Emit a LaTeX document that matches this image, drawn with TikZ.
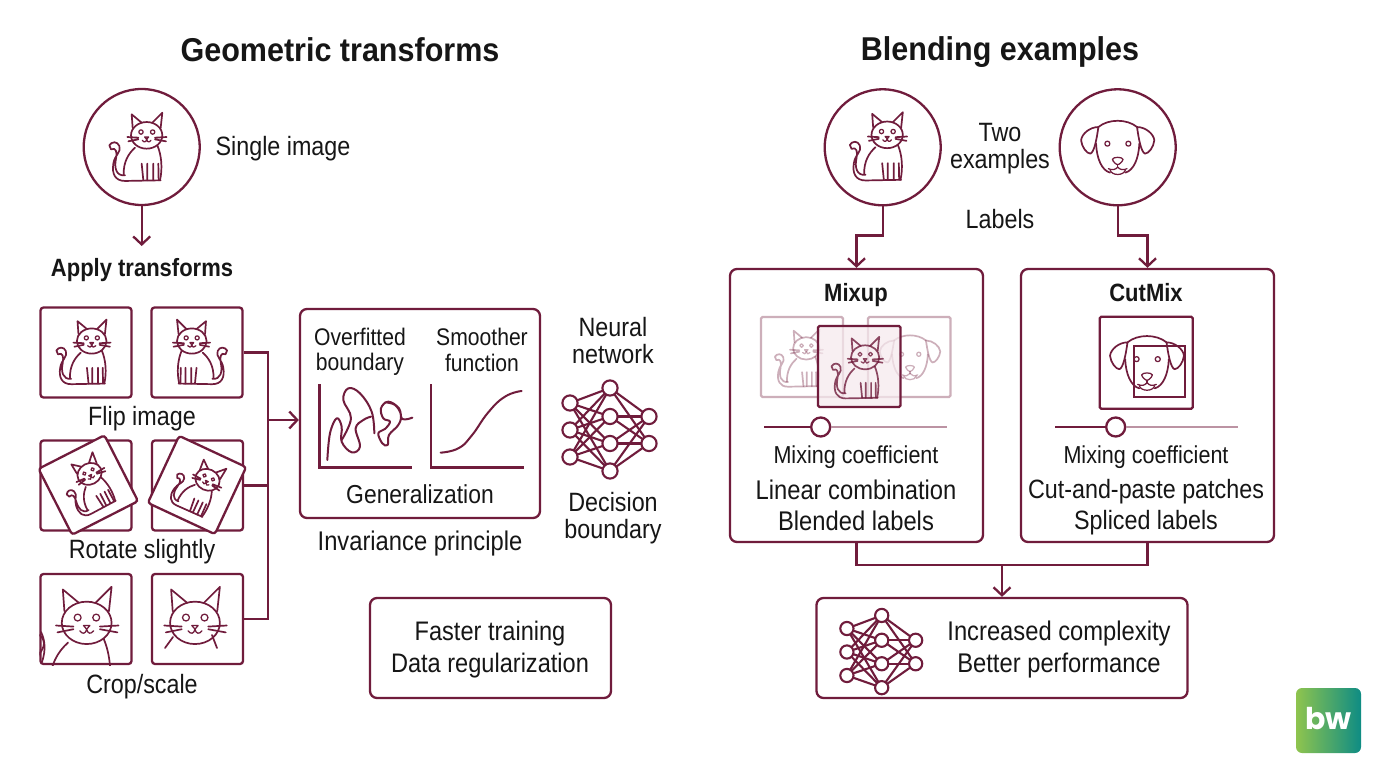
\documentclass[tikz,border=0pt]{standalone}
\usepackage{fontspec}
\setmainfont{Liberation Sans}[FakeStretch=0.88]
\newfontfamily\titlefont{Liberation Sans}[FakeStretch=0.925]
\newfontfamily\logofont{Poppins}
\usetikzlibrary{arrows.meta}
\definecolor{mar}{HTML}{701C3C}
\definecolor{ink}{HTML}{161616}
\definecolor{palemar}{HTML}{BC93A3}
\definecolor{veil}{HTML}{F6EAEE}
\definecolor{logoL}{HTML}{8FC44E}
\definecolor{logoR}{HTML}{0E8C84}
\newcommand{\myfacepath}{%
  \draw[icon] (350,165) ellipse [x radius=47,y radius=40];
  \draw[icon] (308,143) -- (305,102) -- (335,127);
  \draw[icon] (367,127) -- (397,97) -- (392,143);
  \draw[fine] (333,155) circle (6.5) (368,155) circle (6.5);
  \draw[fine] (344,170) -- (356,170) -- (350,177) -- cycle;
  \draw[fine] (337,180) .. controls (342,187) and (348,186) .. (350,177) .. controls (352,186) and (358,187) .. (363,180);
  \draw[icon] (292,170) -- (325,172) (295,183) -- (325,177);
  \draw[icon] (375,172) -- (410,170) (375,177) -- (408,183);
}
\tikzset{
  wire/.style={draw=mar,line width=2.3pt},
  arr/.style={wire,-{Straight Barb[length=8pt,width=17pt,line width=2.3pt]}},
  icon/.style={draw=mar,line width=1.7pt,line cap=round,line join=round},
  fine/.style={draw=mar,line width=1.25pt,line cap=round,line join=round},
  panel/.style={draw=mar,line width=2.3pt,rounded corners=7pt,inner sep=0pt,fill=none},
  tile/.style={draw=mar,line width=2.3pt,rounded corners=3pt,inner sep=0pt,minimum width=91pt,minimum height=90pt},
  disc/.style={circle,draw=mar,line width=2.3pt,inner sep=0pt,minimum size=116pt},
  txt/.style={text=ink,align=center,inner sep=0pt,font=\fontsize{26.5}{27}\selectfont},
  wide/.style={text=ink,align=center,inner sep=0pt,font=\fontsize{27}{30.5}\selectfont},
  head/.style={text=ink,align=center,inner sep=0pt,font=\titlefont\bfseries\fontsize{33}{34}\selectfont},
  sub/.style={text=ink,align=center,inner sep=0pt,font=\bfseries\fontsize{25}{27}\selectfont},
  catface/.pic={
    \begin{scope}[shift={(-324,-203)}]
      \myfacepath
    \end{scope}
  },
  cat/.pic={
    \begin{scope}[shift={(-324,-203)}]
      \myfacepath
      \draw[icon] (392,300) -- (285,302) .. controls (255,302) and (245,280) .. (250,250) .. controls (253,225) and (275,215) .. (268,197) .. controls (262,182) and (245,183) .. (238,195) -- (243,207) .. controls (258,200) and (262,215) .. (258,235) .. controls (252,262) and (258,288) .. (285,285);
      \draw[icon] (315,202) .. controls (295,220) and (280,245) .. (281,283);
      \draw[icon] (382,195) .. controls (395,225) and (398,265) .. (390,300);
      \draw[icon] (335,250) -- (340,300) (352,250) -- (352,300) (370,250) -- (370,300) (385,250) -- (386,300);
    \end{scope}
  },
  dog/.pic={
    \begin{scope}[shift={(-908,-185)}]
      \draw[icon] (850,125) .. controls (880,100) and (936,100) .. (966,125);
      \draw[icon] (850,125) .. controls (825,125) and (800,145) .. (798,165) .. controls (800,185) and (815,205) .. (826,205) .. controls (838,200) and (845,160) .. (850,125);
      \draw[icon] (966,125) .. controls (991,125) and (1016,145) .. (1018,165) .. controls (1016,185) and (1001,205) .. (990,205) .. controls (978,200) and (971,160) .. (966,125);
      \draw[icon] (843,175) .. controls (845,220) and (860,255) .. (885,262);
      \draw[icon] (973,175) .. controls (971,220) and (956,255) .. (931,262);
      \draw[fine] (877,175) circle (7.5) (940,175) circle (7.5);
      \draw[fine] (892,222) .. controls (895,214) and (921,214) .. (924,222) .. controls (922,230) and (912,238) .. (908,238) .. controls (904,238) and (894,230) .. (892,222) -- cycle;
      \draw[fine] (908,238) -- (908,245);
      \draw[fine] (880,250) .. controls (892,256) and (902,253) .. (908,245) .. controls (914,253) and (924,256) .. (936,250);
      \draw[fine] (885,254) .. controls (890,272) and (926,272) .. (931,254);
    \end{scope}
  },
  nnet/.pic={
    \foreach \ya in {-27,0,27} \foreach \yb in {-42,-13.5,13.5,41}
      \draw[draw=mar,line width=2.1pt] (-40,\ya) -- (0,\yb);
    \foreach \ya in {-42,-13.5,13.5,41} \foreach \yb in {-13.5,13.5}
      \draw[draw=mar,line width=2.1pt] (0,\ya) -- (39,\yb);
    \foreach \ya in {-27,0,27} \filldraw[fill=white,draw=mar,line width=2.1pt] (-40,\ya) circle (7.6);
    \foreach \ya in {-42,-13.5,13.5,41} \filldraw[fill=white,draw=mar,line width=2.1pt] (0,\ya) circle (7.6);
    \foreach \ya in {-13.5,13.5} \filldraw[fill=white,draw=mar,line width=2.1pt] (39,\ya) circle (7.6);
  }
}
\begin{document}
\begin{tikzpicture}[x=1pt,y=-1pt]
\useasboundingbox (0,0) rectangle (1376,768);
\fill[white] (0,0) rectangle (1376,768);

% Titles
\node[head] (t1) at (340,50) {Geometric transforms};
\node[head] (t2) at (1000,52) {Blending examples};

% Left source
\node[disc] (c1) at (141.7,147) {};
\pic[scale=.333] at (138,148) {cat};
\node[txt] (single) at (283,149) {Single image};
\coordinate (applytop) at (141.7,246);
\draw[arr] (c1.south) -- (applytop);
\node[sub] (apply) at (142,270) {Apply transforms};

% Tiles
\node[tile] (b1) at (86,352.5) {};
\node[tile] (b2) at (197,352.5) {};
\node[tile] (b3) at (86,485.5) {};
\node[tile] (b4) at (197.5,485.5) {};
\node[tile] (b5) at (86,619) {};
\node[tile] (b6) at (197.5,619) {};

\pic[scale=.315] at (83.5,353) {cat};
\pic[scale=.315,xscale=-1] at (200,353) {cat};

% connectors from tiles
\coordinate (bus) at (268,420);
\draw[wire] (b2.east) -| (bus);
\draw[wire] (b6.east) -| (bus);
\draw[wire] (b4.east) -- (b4.east -| bus);

% Rotated tiles
\node[tile,fill=white,rotate=27,minimum width=74pt,minimum height=74pt] (r1) at (88.3,485) {};
\node[tile,fill=white,rotate=-25,minimum width=74pt,minimum height=74pt] (r2) at (197,485) {};
\pic[scale=.265,rotate=27] at (88,486) {cat};
\pic[scale=.265,rotate=-25] at (197,486) {cat};

\node[txt] (flip) at (142,419) {Flip image};
\node[txt] (rot) at (142,552) {Rotate slightly};
\node[txt] (crop) at (142,687) {Crop/scale};

% Crop tiles
\begin{scope}
  \clip (b5.south west) rectangle (b5.north east);
  \pic[scale=.53] at (72.9,643) {cat};
  \draw[icon] (41,632) .. controls (45,640) and (46,650) .. (42,662);
\end{scope}
\pic[scale=.53] at (181.2,643) {catface};
\draw[icon] (173,637) -- (165,648) (212,635) -- (217,648);

% Generalization panel
\node[panel,minimum width=240pt,minimum height=209pt] (gen) at (420,413.5) {};
\draw[arr] (bus) -- (bus -| gen.west);
\node[txt,font=\fontsize{24}{25.5}\selectfont] (over) at (360,352) {Overfitted\\boundary};
\node[txt,font=\fontsize{24}{25.5}\selectfont] (smooth) at (482,350) {Smoother\\function};
\draw[wire] (319.5,384) -- (319.5,467.5) -- (412,467.5);
\draw[wire] (431,384) -- (431,467.5) -- (524,467.5);
\begin{scope}[shift={(295,305)},scale=.3333]
  \draw[icon,line width=2pt] plot[smooth,tension=.65] coordinates {(97,465) (105,385) (125,340) (140,365) (140,410) (170,442) (195,425) (182,370) (205,345) (228,335)};
  \draw[icon,line width=2pt] plot[smooth,tension=.65] coordinates {(238,385) (230,320) (195,265) (160,250) (145,285) (168,340) (140,405)};
  \draw[icon,line width=2pt] plot[smooth,tension=.65] coordinates {(352,338) (322,342) (312,310) (280,290) (258,310) (265,340) (285,350) (270,372) (250,385) (262,415) (278,420) (282,390) (310,360) (318,330) (300,300) (270,292)};
  \draw[icon,line width=2pt] plot[smooth,tension=.8] coordinates {(437,443) (490,430) (530,392) (580,322) (630,275) (680,258)};
\end{scope}
\node[txt,font=\fontsize{26}{27}\selectfont] (genl) at (420,494) {Generalization};
\node[txt,font=\fontsize{27}{27}\selectfont] (inv) at (420,544) {Invariance principle};
\node[txt] (nn) at (613,341) {Neural\\network};
\pic at (610,430) {nnet};
\node[txt] (dec) at (613,518) {Decision\\boundary};

% Faster box
\node[panel,minimum width=241pt,minimum height=100pt] (fast) at (490.5,648) {};
\node[wide,font=\fontsize{26.8}{32}\selectfont] (fastt) at (490,650) {Faster training\\Data regularization};

% Right sources
\node[disc] (c2) at (882.7,147.3) {};
\node[disc] (c3) at (1117.7,147.3) {};
\pic[scale=.333] at (878.5,147.5) {cat};
\pic[scale=.333] at (1117.7,147) {dog};
\node[txt] (two) at (1000,148.5) {Two\\examples};
\node[txt] (lab) at (1000,219) {Labels};

% Mixup
\node[panel,minimum width=253pt,minimum height=273pt] (mix) at (856.5,405.5) {};
\node[sub] (mixt) at (856,295) {Mixup};
\draw[arr] (c2.south) -- ++(0,29) -| (mix.north);
\begin{scope}[opacity=.35]
  \draw[wire,rounded corners=1.5pt] (761,317) rectangle (843,397);
  \draw[wire,rounded corners=1.5pt] (868,317) rectangle (950.5,397);
  \pic[scale=.28] at (799,359) {cat};
  \pic[scale=.275] at (910,357) {dog};
\end{scope}
\fill[veil,opacity=.72] (818,326) rectangle (900.5,407);
\draw[wire,rounded corners=1.5pt] (818,326) rectangle (900.5,407);
\begin{scope}[opacity=.8]
  \pic[scale=.3] at (857.3,368.7) {cat};
\end{scope}
\coordinate (s1a) at (764,427);
\coordinate (s1b) at (946.7,427);
\node[circle,draw=mar,line width=2.3pt,fill=white,inner sep=0pt,minimum size=19pt] (k1) at (820.7,427) {};
\draw[draw=palemar,line width=2.3pt] (k1.east) -- (s1b);
\draw[wire] (s1a) -- (k1.west);
\node[txt,font=\fontsize{24.5}{25}\selectfont] (mc1) at (856,457) {Mixing coefficient};
\node[wide,font=\fontsize{27}{30.5}\selectfont] (mixb) at (856,505.5) {Linear combination\\Blended labels};

% CutMix
\node[panel,minimum width=253pt,minimum height=273pt] (cut) at (1147.5,405.5) {};
\node[sub] (cutt) at (1146,293) {CutMix};
\draw[arr] (c3.south) -- ++(0,29) -| (cut.north);
\node[draw=mar,line width=2.3pt,rounded corners=1.5pt,inner sep=0pt,minimum width=93pt,minimum height=92pt] (outer) at (1146.3,362.7) {};
\pic[scale=.336] at (1147,362.5) {dog};
\node[draw=mar,line width=2.3pt,inner sep=0pt,minimum width=51pt,minimum height=51pt] (inner) at (1159.3,371.7) {};
\coordinate (s2a) at (1055,427);
\coordinate (s2b) at (1237.7,427);
\node[circle,draw=mar,line width=2.3pt,fill=white,inner sep=0pt,minimum size=19pt] (k2) at (1115.7,427) {};
\draw[draw=palemar,line width=2.3pt] (k2.east) -- (s2b);
\draw[wire] (s2a) -- (k2.west);
\node[txt,font=\fontsize{24.5}{25}\selectfont] (mc2) at (1146,457) {Mixing coefficient};
\node[wide,font=\fontsize{26.5}{30.5}\selectfont] (cutb) at (1146,507) {Cut-and-paste patches\\Spliced labels};

% Result
\node[panel,minimum width=371pt,minimum height=100pt] (res) at (1002,648) {};
\coordinate (merge) at (1002,565);
\draw[wire] (mix.south) |- (merge);
\draw[wire] (cut.south) |- (merge);
\draw[arr] (merge) -- (res.north);
\pic[scale=.87] at (881.7,652) {nnet};
\node[wide,font=\fontsize{27}{32}\selectfont] (rest) at (1059,650) {Increased complexity\\Better performance};

% Logo
\shade[left color=logoL,right color=logoR,rounded corners=6pt] (1296,688) rectangle (1361,753);
\node[text=white,inner sep=0pt,font=\logofont\bfseries\fontsize{30}{30}\selectfont] (logo) at (1328.5,719) {bw};
\end{tikzpicture}
\end{document}
